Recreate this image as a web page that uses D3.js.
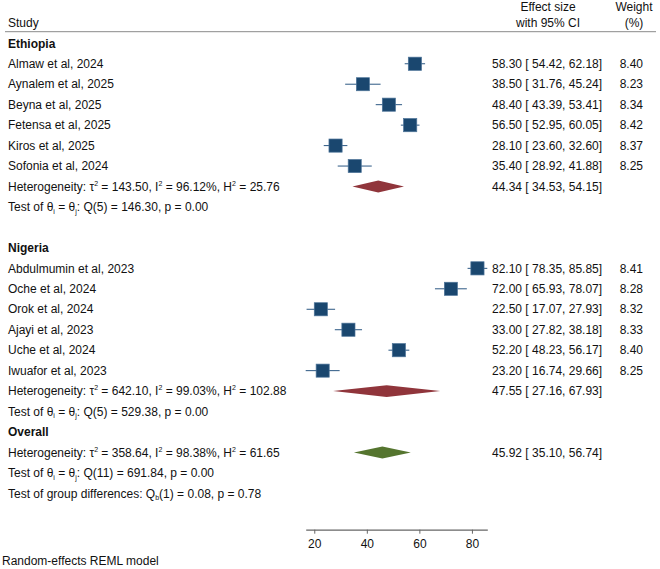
<!DOCTYPE html>
<html><head><meta charset="utf-8">
<script src="https://cdn.jsdelivr.net/npm/d3@7"></script>
<style>
body{margin:0;background:#fff;}
svg{display:block;font-family:"Liberation Sans",Arial,sans-serif;}
</style></head>
<body><svg id="c" width="660" height="569"></svg>
<script>
// ---------- data ----------
const groupNames = ["Ethiopia", "Nigeria"];
const studyNames = [
  ["Almaw et al, 2024","Aynalem et al, 2025","Beyna et al, 2025","Fetensa et al, 2025","Kiros et al, 2025","Sofonia et al, 2024"],
  ["Abdulmumin et al, 2023","Oche et al, 2024","Orok et al, 2024","Ajayi et al, 2023","Uche et al, 2024","Iwuafor et al, 2023"]
];
const studyES = [[58.30,38.50,48.40,56.50,28.10,35.40],[82.10,72.00,22.50,33.00,52.20,23.20]];
const studyLo = [[54.42,31.76,43.39,52.95,23.60,28.92],[78.35,65.93,17.07,27.82,48.23,16.74]];
const studyHi = [[62.18,45.24,53.41,60.05,32.60,41.88],[85.85,78.07,27.93,38.18,56.17,29.66]];
const studyWt = [[8.40,8.23,8.34,8.42,8.37,8.25],[8.41,8.28,8.32,8.33,8.40,8.25]];
const groupES = [44.34, 47.55];
const groupLo = [34.53, 27.16];
const groupHi = [54.15, 67.93];
const groupTau2 = ["143.50","642.10"];
const groupI2 = ["96.12%","99.03%"];
const groupH2 = ["25.76","102.88"];
const groupQdf = [5, 5];
const groupQ = ["146.30","529.38"];
const groupP = ["0.00","0.00"];
const overall = {es:45.92, lo:35.10, hi:56.74, tau2:"358.64", I2:"98.38%", H2:"61.65", df:11, Q:"691.84", p:"0.00"};
const groupDiff = {df:1, Q:"0.08", p:"0.78"};
const tickValues = [20, 40, 60, 80];

// ---------- layout ----------
const svg = d3.select("#c");
const fs = 12;
const txt = "#111";
const fmt = d3.format(".2f");
const allLo = studyLo.flat(), allHi = studyHi.flat();
const x = d3.scaleLinear().domain([d3.min(allLo), d3.max(allHi)]).range([305.7, 487.3]);
const y = d3.scaleLinear().domain([0, 22]).range([43.3, 493.4]);
const colES = 492, colW = 643, colWc = 634, colESc = 548;
const navy = "#1a476f", maroon = "#90353b", green = "#55752f";

// header
svg.append("text").attr("x",8).attr("y",22.7).attr("dy","0.35em").attr("font-size",fs).attr("fill",txt).text("Study");
svg.append("text").attr("x",colESc).attr("y",6.3).attr("dy","0.35em").attr("text-anchor","middle").attr("font-size",fs).attr("fill",txt).text("Effect size");
svg.append("text").attr("x",colESc).attr("y",22.7).attr("dy","0.35em").attr("text-anchor","middle").attr("font-size",fs).attr("fill",txt).text("with 95% CI");
svg.append("text").attr("x",colWc).attr("y",6.3).attr("dy","0.35em").attr("text-anchor","middle").attr("font-size",fs).attr("fill",txt).text("Weight");
svg.append("text").attr("x",colWc).attr("y",22.7).attr("dy","0.35em").attr("text-anchor","middle").attr("font-size",fs).attr("fill",txt).text("(%)");
svg.append("line").attr("x1",5).attr("x2",656).attr("y1",31.7).attr("y2",31.7).attr("stroke","#8a8a8a").attr("stroke-width",1);

function rich(xp, yp, parts, bold) {
  const base = yp + 4.2;
  const t = svg.append("text").attr("x",xp).attr("y",base).attr("font-size",fs).attr("fill",txt);
  if (bold) t.attr("font-weight","bold");
  let cur = 0;
  parts.forEach(p => {
    let target = 0, str = p, size = fs;
    if (typeof p !== "string") { target = p.sup ? -5 : 2.5; str = p.sup || p.sub; size = 7; }
    const ts = t.append("tspan").attr("font-size", size).text(str);
    if (target !== cur) ts.attr("dy", target - cur);
    cur = target;
  });
  return t;
}
function hetParts(tau2, I2, H2) {
  return ["Heterogeneity: τ",{sup:"2"}," = "+tau2+", I",{sup:"2"}," = "+I2+", H",{sup:"2"}," = "+H2];
}
function testParts(df, Q, p) {
  return ["Test of θ",{sub:"i"}," = θ",{sub:"j"},": Q("+df+") = "+Q+", p = "+p];
}
function esText(es, lo, hi) {
  return fmt(es)+" [ "+fmt(lo)+",  "+fmt(hi)+"]";
}
function diamond(row, es, lo, hi, color) {
  const yc = y(row), h = 5.9;
  svg.append("polygon")
    .attr("points", [[x(lo),yc],[x(es),yc-h],[x(hi),yc],[x(es),yc+h]].map(d=>d.join(",")).join(" "))
    .attr("fill", color);
  rich(colES, yc, [esText(es,lo,hi)]);
}

let row = 0;
groupNames.forEach((g, gi) => {
  rich(8, y(row), [g], true);
  row++;
  studyNames[gi].forEach((s, si) => {
    const yc = y(row);
    rich(8, yc, [s]);
    svg.append("line").attr("x1",x(studyLo[gi][si])).attr("x2",x(studyHi[gi][si]))
      .attr("y1",yc).attr("y2",yc).attr("stroke","#2c5883").attr("stroke-width",1);
    const side = 4.55 * Math.sqrt(studyWt[gi][si]);
    svg.append("rect").attr("x",x(studyES[gi][si])-side/2).attr("y",yc-side/2)
      .attr("width",side).attr("height",side).attr("fill",navy).attr("stroke","#4d7499").attr("stroke-width",0.7);
    rich(colES, yc, [esText(studyES[gi][si], studyLo[gi][si], studyHi[gi][si])]);
    rich(colW, yc, [fmt(studyWt[gi][si])]).attr("text-anchor","end");
    row++;
  });
  rich(8, y(row), hetParts(groupTau2[gi], groupI2[gi], groupH2[gi]));
  diamond(row, groupES[gi], groupLo[gi], groupHi[gi], maroon);
  row++;
  rich(8, y(row), testParts(groupQdf[gi], groupQ[gi], groupP[gi]));
  row += (gi < groupNames.length - 1) ? 2 : 1;
});
rich(8, y(row), ["Overall"], true);
row++;
rich(8, y(row), hetParts(overall.tau2, overall.I2, overall.H2));
diamond(row, overall.es, overall.lo, overall.hi, green);
row++;
rich(8, y(row), testParts(overall.df, overall.Q, overall.p));
row++;
rich(8, y(row), ["Test of group differences: Q",{sub:"b"},"("+groupDiff.df+") = "+groupDiff.Q+", p = "+groupDiff.p]);

// axis
const ax = svg.append("g").attr("transform","translate(0,529.7)")
  .call(d3.axisBottom(x).tickValues(tickValues).tickSize(4).tickSizeOuter(0).tickPadding(5.5).tickFormat(d3.format("d")));
ax.select(".domain").attr("stroke","#666").attr("stroke-width",1.2);
ax.selectAll(".tick line").attr("stroke","#666");
ax.selectAll(".tick text").attr("font-size",fs).attr("fill",txt).attr("font-family","Liberation Sans, Arial, sans-serif");

svg.append("text").attr("x",2).attr("y",560.7).attr("dy","0.35em").attr("font-size",fs).attr("fill",txt).text("Random-effects REML model");
</script></body></html>
